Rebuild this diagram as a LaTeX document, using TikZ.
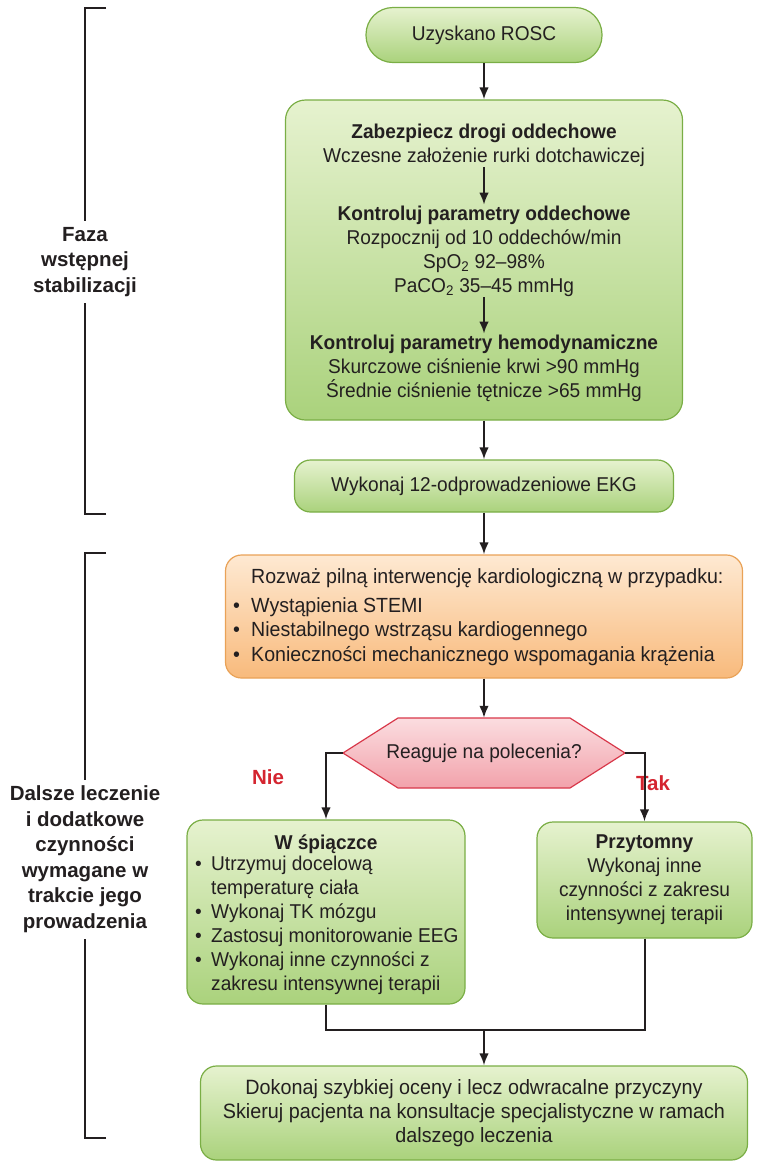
\documentclass[tikz,border=0pt]{standalone}
\usepackage{fontspec}
\setmainfont{Liberation Sans}[FakeStretch=0.955]
\newfontfamily\labfamily{Liberation Sans}
\usetikzlibrary{arrows.meta,backgrounds}
\newcommand\bodyfnt{\fontsize{20}{24}\selectfont}
\newcommand\orfnt{\fontsize{20.5}{24.5}\selectfont}
\newcommand\finfnt{\fontsize{20.7}{24}\selectfont}
\newcommand\labfnt{\labfamily\bfseries\fontsize{20.5}{25.5}\selectfont}
\newcommand\bitem{\makebox[18pt][l]{\textbullet}}
\newcommand\bcont{\hspace*{18pt}}
\newcommand\sitem{\makebox[16pt][l]{\textbullet}}
\newcommand\scont{\hspace*{16pt}}
\definecolor{gtop}{HTML}{E6F2CF}
\definecolor{gbot}{HTML}{AAD27C}
\definecolor{gbrd}{HTML}{7AAE45}
\definecolor{otop}{HTML}{FEE9D2}
\definecolor{obot}{HTML}{F8BA7C}
\definecolor{obrd}{HTML}{E9A257}
\definecolor{rtop}{HTML}{FBDDE0}
\definecolor{rbot}{HTML}{F2A2AB}
\definecolor{rbrd}{HTML}{D8384A}
\definecolor{redl}{HTML}{D42530}
\definecolor{ink}{HTML}{231F20}
\begin{document}
\begin{tikzpicture}[x=1pt,y=-1pt,
  every node/.style={text=ink},
  gbox/.style={draw=gbrd, line width=1.2pt, top color=gtop, bottom color=gbot, rounded corners=16pt, align=center, font=\bodyfnt, inner sep=0pt},
  obox/.style={draw=obrd, line width=1.2pt, top color=otop, bottom color=obot, rounded corners=16pt, inner sep=0pt},
  txtn/.style={font=\bodyfnt, align=center, inner sep=0pt},
  arr/.style={draw=ink, line width=2pt, -{Latex[length=12pt,width=9.5pt]}},
  ln/.style={draw=ink, line width=2pt},
  brk/.style={draw=ink, line width=2.4pt},
  lab/.style={font=\labfnt, align=center, inner sep=6pt},
  redlab/.style={font=\labfamily\bfseries\fontsize{20.5}{24}\selectfont, text=redl, inner sep=0pt}
]
\useasboundingbox (0,0) rectangle (759,1163);

% brackets
\node[lab] (faza) at (85,262) {Faza\\wstępnej\\stabilizacji};
\coordinate (b1t) at (106,8);
\coordinate (b1b) at (106,514);
\draw[brk] (b1t) -| (faza.north);
\draw[brk] (b1b) -| (faza.south);
\node[lab] (dal) at (85,859) {Dalsze leczenie\\i dodatkowe\\czynności\\wymagane w\\trakcie jego\\prowadzenia};
\coordinate (b2t) at (106,553);
\coordinate (b2b) at (106,1138);
\draw[brk] (b2t) -| (dal.north);
\draw[brk] (b2b) -| (dal.south);

% top box
\node[gbox, minimum width=236, minimum height=55, rounded corners=27pt] (rosc) at (484,35) {Uzyskano ROSC};

% stabilisation box
\node[gbox, minimum width=397, minimum height=320, rounded corners=20pt] (stab) at (484,260) {};
\node[txtn, outer sep=1pt] (s1) at (484,145) {\textbf{Zabezpiecz drogi oddechowe}\\Wczesne założenie rurki dotchawiczej};
\node[txtn, outer sep=1pt] (s2) at (484,251) {\textbf{Kontroluj parametry oddechowe}\\Rozpocznij od 10 oddechów/min\\SpO\textsubscript{2} 92–98\%\\PaCO\textsubscript{2} 35–45 mmHg};
\node[txtn, outer sep=1pt] (s3) at (484,368) {\textbf{Kontroluj parametry hemodynamiczne}\\Skurczowe ciśnienie krwi >90 mmHg\\Średnie ciśnienie tętnicze >65 mmHg};
\draw[arr] (s1) -- (s2);
\draw[arr] (s2) -- (s3);

% EKG
\node[gbox, minimum width=379, minimum height=52] (ekg) at (484,486) {Wykonaj 12-odprowadzeniowe EKG};

% orange
\node[obox, minimum width=517, minimum height=123] (kard) at (484,616.5) {};
\node[txtn, font=\orfnt, align=left, anchor=west] (kt) at (233,617) {\hspace*{18pt}Rozważ pilną interwencję kardiologiczną w przypadku:\\[4pt]
\bitem Wystąpienia STEMI\\
\bitem Niestabilnego wstrząsu kardiogennego\\
\bitem Konieczności mechanicznego wspomagania krążenia};

% decision
\coordinate (qc) at (484,753);
\path[draw=rbrd, line width=1.2pt, top color=rtop, bottom color=rbot]
  ([shift={(-86,-35)}]qc) -- ([shift={(86,-35)}]qc) -- ([shift={(141,0)}]qc)
  -- ([shift={(86,35)}]qc) -- ([shift={(-86,35)}]qc) -- ([shift={(-141,0)}]qc) -- cycle;
\node[txtn, minimum width=282, minimum height=70] (q) at (qc) {Reaguje na polecenia?};
\node[redlab] (nie) at (268,777) {Nie};
\node[redlab] (tak) at (653,783) {Tak};

% branches
\node[gbox, minimum width=278, minimum height=184] (coma) at (326,912) {};
\node[txtn] (ct) at (326,844) {\textbf{W śpiączce}};
\node[txtn, align=left, anchor=north west] (cl) at (195,856) {\sitem Utrzymuj docelową\\
\scont temperaturę ciała\\
\sitem Wykonaj TK mózgu\\
\sitem Zastosuj monitorowanie EEG\\
\sitem Wykonaj inne czynności z\\
\scont zakresu intensywnej terapii};

\node[gbox, minimum width=215, minimum height=116] (przy) at (644.5,880) {\textbf{Przytomny}\\Wykonaj inne\\czynności z zakresu\\intensywnej terapii};

% final
\node[gbox, font=\finfnt, minimum width=547, minimum height=94] (fin) at (474,1113) {Dokonaj szybkiej oceny i lecz odwracalne przyczyny\\Skieruj pacjenta na konsultacje specjalistyczne w ramach\\dalszego leczenia};

% connectors
\draw[arr] (rosc) -- (stab);
\draw[arr] (stab) -- (ekg);
\draw[arr] (ekg) -- (kard);
\draw[arr] (kard) -- (q);
\draw[arr] (q.west) -| (coma.north);
\draw[arr] (q.east) -| (przy.north);
\coordinate (j) at (484,1030);
\draw[ln] (coma.south) |- (j);
\draw[ln] (przy.south) |- (j);
\draw[arr] (j) -- (j |- fin.north);
\end{tikzpicture}
\end{document}
